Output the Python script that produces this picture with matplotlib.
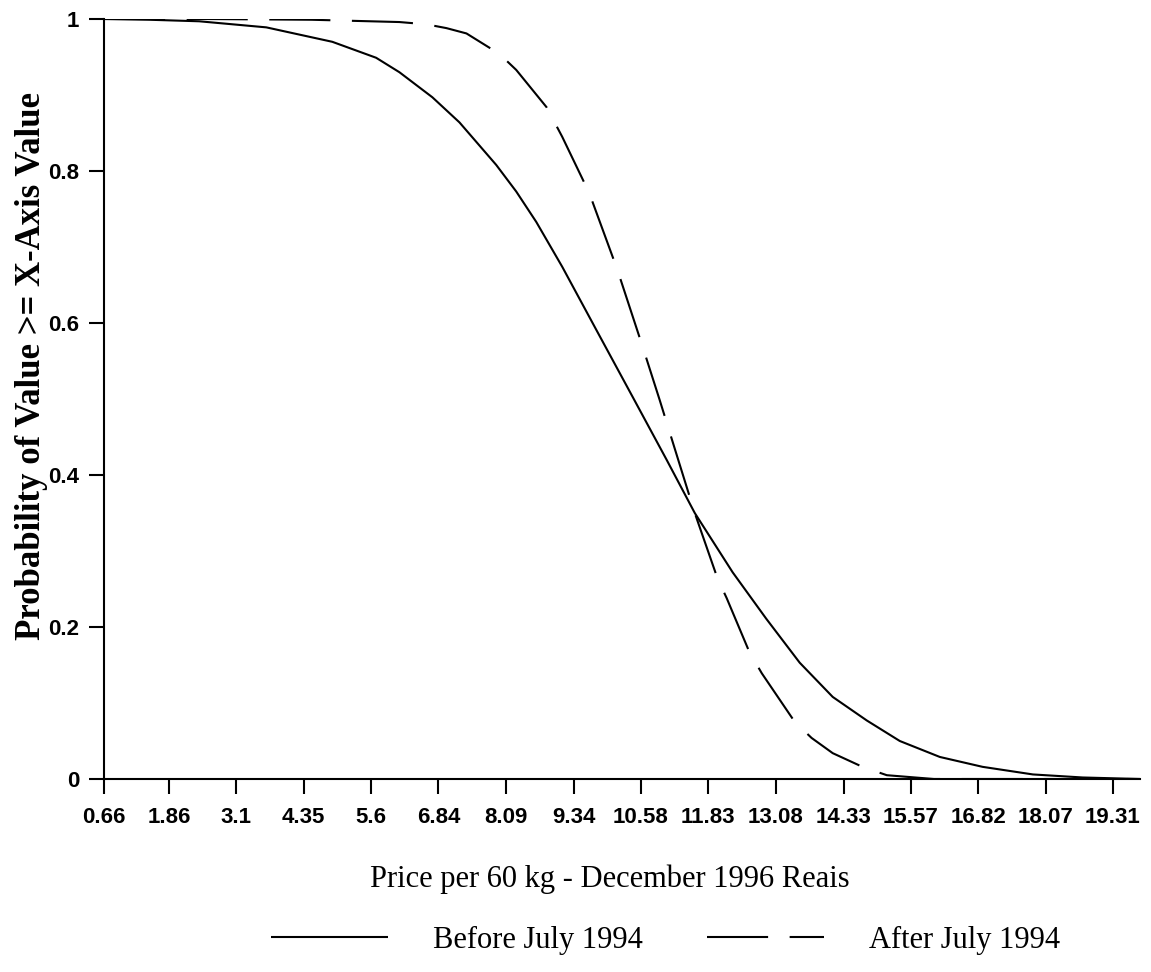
import matplotlib
matplotlib.use("Agg")
import matplotlib.pyplot as plt

# ---- data ----
tick_values = [0.66, 1.86, 3.1, 4.35, 5.6, 6.84, 8.09, 9.34, 10.58, 11.83,
               13.08, 14.33, 15.57, 16.82, 18.07, 19.31]
tick_labels = ["0.66", "1.86", "3.1", "4.35", "5.6", "6.84", "8.09", "9.34",
               "10.58", "11.83", "13.08", "14.33", "15.57", "16.82", "18.07", "19.31"]
y_ticks = [0, 0.2, 0.4, 0.6, 0.8, 1.0]
y_tick_labels = ["0", "0.2", "0.4", "0.6", "0.8", "1"]

before_x = [0.66, 1.50, 2.42, 3.66, 4.88, 5.69, 6.12, 6.73, 7.23, 7.91, 8.28, 8.65,
            9.13, 9.76, 10.43, 11.06, 11.58, 12.28, 12.90, 13.52, 14.13, 14.76,
            15.37, 16.11, 16.90, 17.83, 18.75, 19.81]
before_y = [1.000, 0.999, 0.997, 0.989, 0.970, 0.949, 0.930, 0.897, 0.864, 0.808,
            0.773, 0.733, 0.674, 0.591, 0.503, 0.420, 0.350, 0.272, 0.211, 0.153,
            0.108, 0.077, 0.050, 0.029, 0.016, 0.006, 0.002, 0.000]

after_x = [0.66, 2.50, 4.50, 6.12, 6.62, 6.99, 7.36, 7.97, 8.28, 8.84, 9.13, 9.63,
           10.15, 10.62, 10.93, 11.20, 11.58, 12.00, 12.17, 12.59, 12.82, 13.43,
           13.74, 14.13, 14.68, 15.13, 16.00, 19.81]
after_y = [1.000, 1.000, 0.999, 0.996, 0.993, 0.988, 0.981, 0.954, 0.933, 0.884,
           0.845, 0.771, 0.670, 0.568, 0.499, 0.437, 0.350, 0.264, 0.238, 0.167,
           0.139, 0.075, 0.054, 0.034, 0.016, 0.005, 0.000, 0.000]

series_labels = ["Before July 1994", "After July 1994"]
x_label = "Price per 60 kg - December 1996 Reais"
y_label = "Probability of Value >= X-Axis Value"

# ---- figure ----
W, H = 1151, 972
fig = plt.figure(figsize=(W / 100, H / 100), dpi=100)
ax = fig.add_axes([104 / W, 1 - 779 / H, (1140 - 104) / W, (779 - 19) / H])

lw = 1.5
ax.plot(before_x, before_y, color="black", lw=lw, solid_capstyle="butt",
        label=series_labels[0])
ax.plot(after_x, after_y, color="black", lw=lw, dash_capstyle="butt",
        linestyle=(0, (44.0 / lw, 15.5 / lw)), label=series_labels[1])

ax.set_xlim(0.66, 19.81)
ax.set_ylim(0, 1)
ax.set_xticks(tick_values)
ax.set_xticklabels(tick_labels)
ax.set_yticks(y_ticks)
ax.set_yticklabels(y_tick_labels)

for s in ["top", "right"]:
    ax.spines[s].set_visible(False)
for s in ["left", "bottom"]:
    ax.spines[s].set_linewidth(1.5)

ax.tick_params(axis="x", direction="out", length=11, width=1.5, pad=9)
ax.tick_params(axis="y", direction="out", length=10.5, width=1.5, pad=7.5)
for t in ax.get_xticklabels() + ax.get_yticklabels():
    t.set_fontfamily("Liberation Sans")
    t.set_fontweight("bold")
    t.set_fontsize(16)

fig.text(610 / W, 1 - 887 / H, x_label, ha="center", va="baseline",
         family="Liberation Serif", fontsize=22)
fig.text(32 / W, 1 - 366 / H, y_label, ha="center", va="center", rotation=90,
         family="Liberation Serif", fontsize=25, weight="bold")

leg = fig.legend(loc="center", bbox_to_anchor=(666 / W, 1 - 940 / H), ncol=2,
                 frameon=False, handlelength=3.8, handletextpad=1.5,
                 columnspacing=2.1,
                 prop=dict(family="Liberation Serif", size=22))

fig.savefig("out.png", dpi=100)
